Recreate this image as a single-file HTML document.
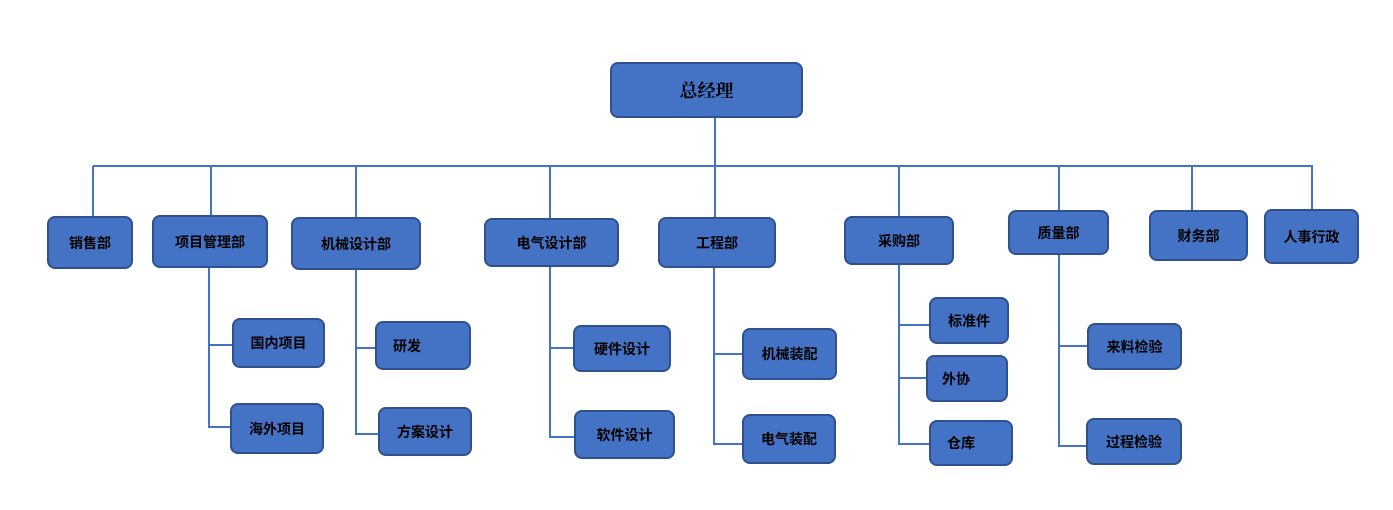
<!DOCTYPE html>
<html><head><meta charset="utf-8"><style>
body{margin:0;width:1393px;height:510px;background:#fff;position:relative;overflow:hidden;font-family:"Liberation Sans","Noto Sans CJK SC",sans-serif}
.b{position:absolute;box-sizing:border-box;background:#4472c4;border:2px solid #2f528f;border-radius:8px;display:flex;align-items:center;justify-content:center;font-weight:bold;font-size:14px;color:#000}
.l{position:absolute;background:#4472c4}
</style></head><body>
<div class="l" style="left:93px;top:165px;width:1220px;height:2px"></div>
<div class="l" style="left:714px;top:118px;width:2px;height:99px"></div>
<div class="l" style="left:92px;top:166px;width:2px;height:50px"></div>
<div class="l" style="left:210px;top:166px;width:2px;height:49px"></div>
<div class="l" style="left:355px;top:166px;width:2px;height:51px"></div>
<div class="l" style="left:549px;top:166px;width:2px;height:52px"></div>
<div class="l" style="left:898px;top:166px;width:2px;height:50px"></div>
<div class="l" style="left:1058px;top:166px;width:2px;height:44px"></div>
<div class="l" style="left:1191px;top:166px;width:2px;height:44px"></div>
<div class="l" style="left:1311px;top:166px;width:2px;height:43px"></div>
<!-- sub lines -->
<div class="l" style="left:208px;top:268px;width:2px;height:160px"></div>
<div class="l" style="left:208px;top:344px;width:24px;height:2px"></div>
<div class="l" style="left:208px;top:426px;width:22px;height:2px"></div>
<div class="l" style="left:355px;top:270px;width:2px;height:165px"></div>
<div class="l" style="left:355px;top:347px;width:20px;height:2px"></div>
<div class="l" style="left:355px;top:433px;width:23px;height:2px"></div>
<div class="l" style="left:549px;top:267px;width:2px;height:171px"></div>
<div class="l" style="left:549px;top:347px;width:24px;height:2px"></div>
<div class="l" style="left:549px;top:436px;width:25px;height:2px"></div>
<div class="l" style="left:713px;top:268px;width:2px;height:177px"></div>
<div class="l" style="left:713px;top:353px;width:29px;height:2px"></div>
<div class="l" style="left:713px;top:443px;width:29px;height:2px"></div>
<div class="l" style="left:898px;top:265px;width:2px;height:180px"></div>
<div class="l" style="left:898px;top:324px;width:31px;height:2px"></div>
<div class="l" style="left:898px;top:377px;width:28px;height:2px"></div>
<div class="l" style="left:898px;top:443px;width:31px;height:2px"></div>
<div class="l" style="left:1058px;top:255px;width:2px;height:192px"></div>
<div class="l" style="left:1058px;top:345px;width:29px;height:2px"></div>
<div class="l" style="left:1058px;top:445px;width:28px;height:2px"></div>

<div class="b" style="left:610px;top:62px;width:193px;height:56px;font-family:'Liberation Serif','Noto Serif CJK SC',serif;font-size:18px">总经理</div>
<div class="b" style="left:47px;top:216px;width:86px;height:53px">销售部</div>
<div class="b" style="left:152px;top:215px;width:116px;height:53px">项目管理部</div>
<div class="b" style="left:291px;top:217px;width:130px;height:53px">机械设计部</div>
<div class="b" style="left:484px;top:218px;width:135px;height:49px">电气设计部</div>
<div class="b" style="left:658px;top:217px;width:118px;height:51px">工程部</div>
<div class="b" style="left:844px;top:216px;width:110px;height:49px">采购部</div>
<div class="b" style="left:1008px;top:210px;width:101px;height:45px">质量部</div>
<div class="b" style="left:1149px;top:210px;width:99px;height:51px">财务部</div>
<div class="b" style="left:1264px;top:209px;width:95px;height:55px">人事行政</div>

<div class="b" style="left:232px;top:318px;width:93px;height:50px">国内项目</div>
<div class="b" style="left:230px;top:403px;width:94px;height:51px">海外项目</div>
<div class="b" style="left:375px;top:321px;width:96px;height:49px;justify-content:flex-start;padding-left:16px">研发</div>
<div class="b" style="left:378px;top:407px;width:94px;height:49px">方案设计</div>
<div class="b" style="left:573px;top:325px;width:98px;height:47px">硬件设计</div>
<div class="b" style="left:574px;top:410px;width:101px;height:49px">软件设计</div>
<div class="b" style="left:742px;top:328px;width:95px;height:52px">机械装配</div>
<div class="b" style="left:742px;top:414px;width:94px;height:50px">电气装配</div>
<div class="b" style="left:929px;top:297px;width:80px;height:47px">标准件</div>
<div class="b" style="left:926px;top:355px;width:82px;height:47px;justify-content:flex-start;padding-left:14px">外协</div>
<div class="b" style="left:929px;top:420px;width:84px;height:46px;justify-content:flex-start;padding-left:16px">仓库</div>
<div class="b" style="left:1087px;top:323px;width:95px;height:47px">来料检验</div>
<div class="b" style="left:1086px;top:418px;width:96px;height:47px">过程检验</div>
</body></html>
